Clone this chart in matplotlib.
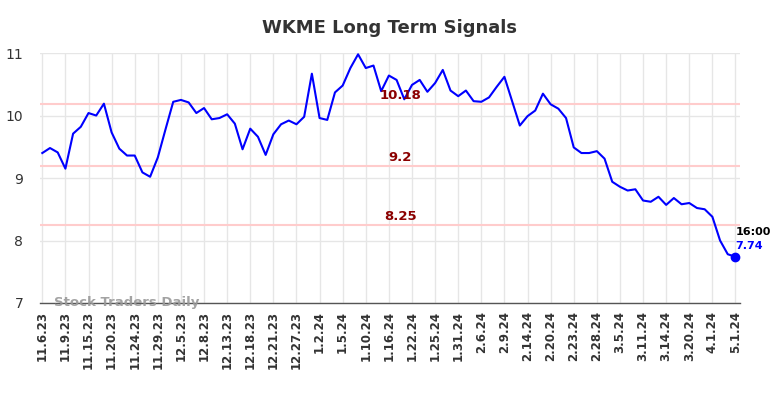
#! /usr/bin/env python
"""WKME long term signals chart."""

import numpy as np
import matplotlib
matplotlib.use('Agg')
import matplotlib.pyplot as plt

### data ##########################################################################################

prices = [
    9.40, 9.48, 9.41, 9.15, 9.71, 9.82, 10.04, 10.00, 10.19, 9.73,
    9.47, 9.36, 9.36, 9.09, 9.02, 9.33, 9.78, 10.22, 10.25, 10.21,
    10.04, 10.12, 9.94, 9.96, 10.02, 9.87, 9.46, 9.79, 9.66, 9.37,
    9.70, 9.86, 9.92, 9.86, 9.98, 10.67, 9.96, 9.93, 10.37, 10.48,
    10.76, 10.98, 10.76, 10.80, 10.39, 10.64, 10.57, 10.26, 10.49, 10.57,
    10.38, 10.52, 10.73, 10.40, 10.31, 10.40, 10.23, 10.22, 10.29, 10.46,
    10.62, 10.23, 9.84, 9.99, 10.08, 10.35, 10.18, 10.11, 9.96, 9.49,
    9.40, 9.40, 9.43, 9.31, 8.94, 8.86, 8.80, 8.82, 8.64, 8.62,
    8.70, 8.57, 8.68, 8.58, 8.60, 8.52, 8.50, 8.38, 8.00, 7.78,
    7.74,
]

tick_labels = [
    '11.6.23', '11.9.23', '11.15.23', '11.20.23', '11.24.23', '11.29.23',
    '12.5.23', '12.8.23', '12.13.23', '12.18.23', '12.21.23', '12.27.23',
    '1.2.24', '1.5.24', '1.10.24', '1.16.24', '1.22.24', '1.25.24', '1.31.24',
    '2.6.24', '2.9.24', '2.14.24', '2.20.24', '2.23.24', '2.28.24',
    '3.5.24', '3.11.24', '3.14.24', '3.20.24', '4.1.24', '5.1.24',
]

signals = [10.18, 9.2, 8.25]
signal_labels = ['10.18', '9.2', '8.25']

last_time = '16:00'

### plot ##########################################################################################

fig = plt.figure(figsize=(7.84, 3.98), dpi=100)
ax = fig.add_axes([0.051, 0.2387, 0.893, 0.628])

x = np.arange(len(prices))

# grid
ax.set_axisbelow(True)
ax.grid(True, color='#e6e6e6', linewidth=1)

# support / resistance lines
for level, lab in zip(signals, signal_labels):
    ax.axhline(level, color='#ffcccc', linewidth=1.5, zorder=1)
    ax.text(46.5, level + 0.03, lab, ha='center', va='bottom', color='#8b0000',
            fontsize=9.5, fontweight='bold', zorder=3)

# price line
ax.plot(x, prices, color='#0000ff', linewidth=1.5, zorder=2)
ax.plot(x[-1], prices[-1], 'o', color='#0000ff', markersize=6, zorder=4)
ax.text(x[-1], prices[-1] + 0.4, last_time, ha='left', va='center', color='black',
        fontsize=8, fontweight='bold')
ax.text(x[-1], prices[-1] + 0.18, f'{prices[-1]:.2f}', ha='left', va='center', color='#0000ff',
        fontsize=8, fontweight='bold')

# watermark
ax.text(1.5, 7.0, 'Stock Traders Daily', ha='left', va='center', color='#999999',
        fontsize=9.5, fontweight='bold', alpha=0.9, zorder=5)

# axes
ax.set_xlim(-0.3, 90.6)
ax.set_ylim(7, 11)
ax.set_yticks([7, 8, 9, 10, 11])
ax.set_xticks(x[::3])
ax.set_xticklabels(tick_labels, rotation=90, fontsize=8.5, fontweight='bold', color='#333333')
ax.tick_params(axis='y', labelsize=10, colors='#333333', length=0, pad=12)
ax.tick_params(axis='x', length=0, pad=6)
for side in ['top', 'right', 'left']:
    ax.spines[side].set_visible(False)
ax.spines['bottom'].set_color('#555555')
ax.spines['bottom'].set_linewidth(1)

fig.suptitle('WKME Long Term Signals', x=0.497, y=0.952, fontsize=13, fontweight='bold',
             color='#333333')

plt.savefig('out.png', dpi=100)
plt.close(fig)
